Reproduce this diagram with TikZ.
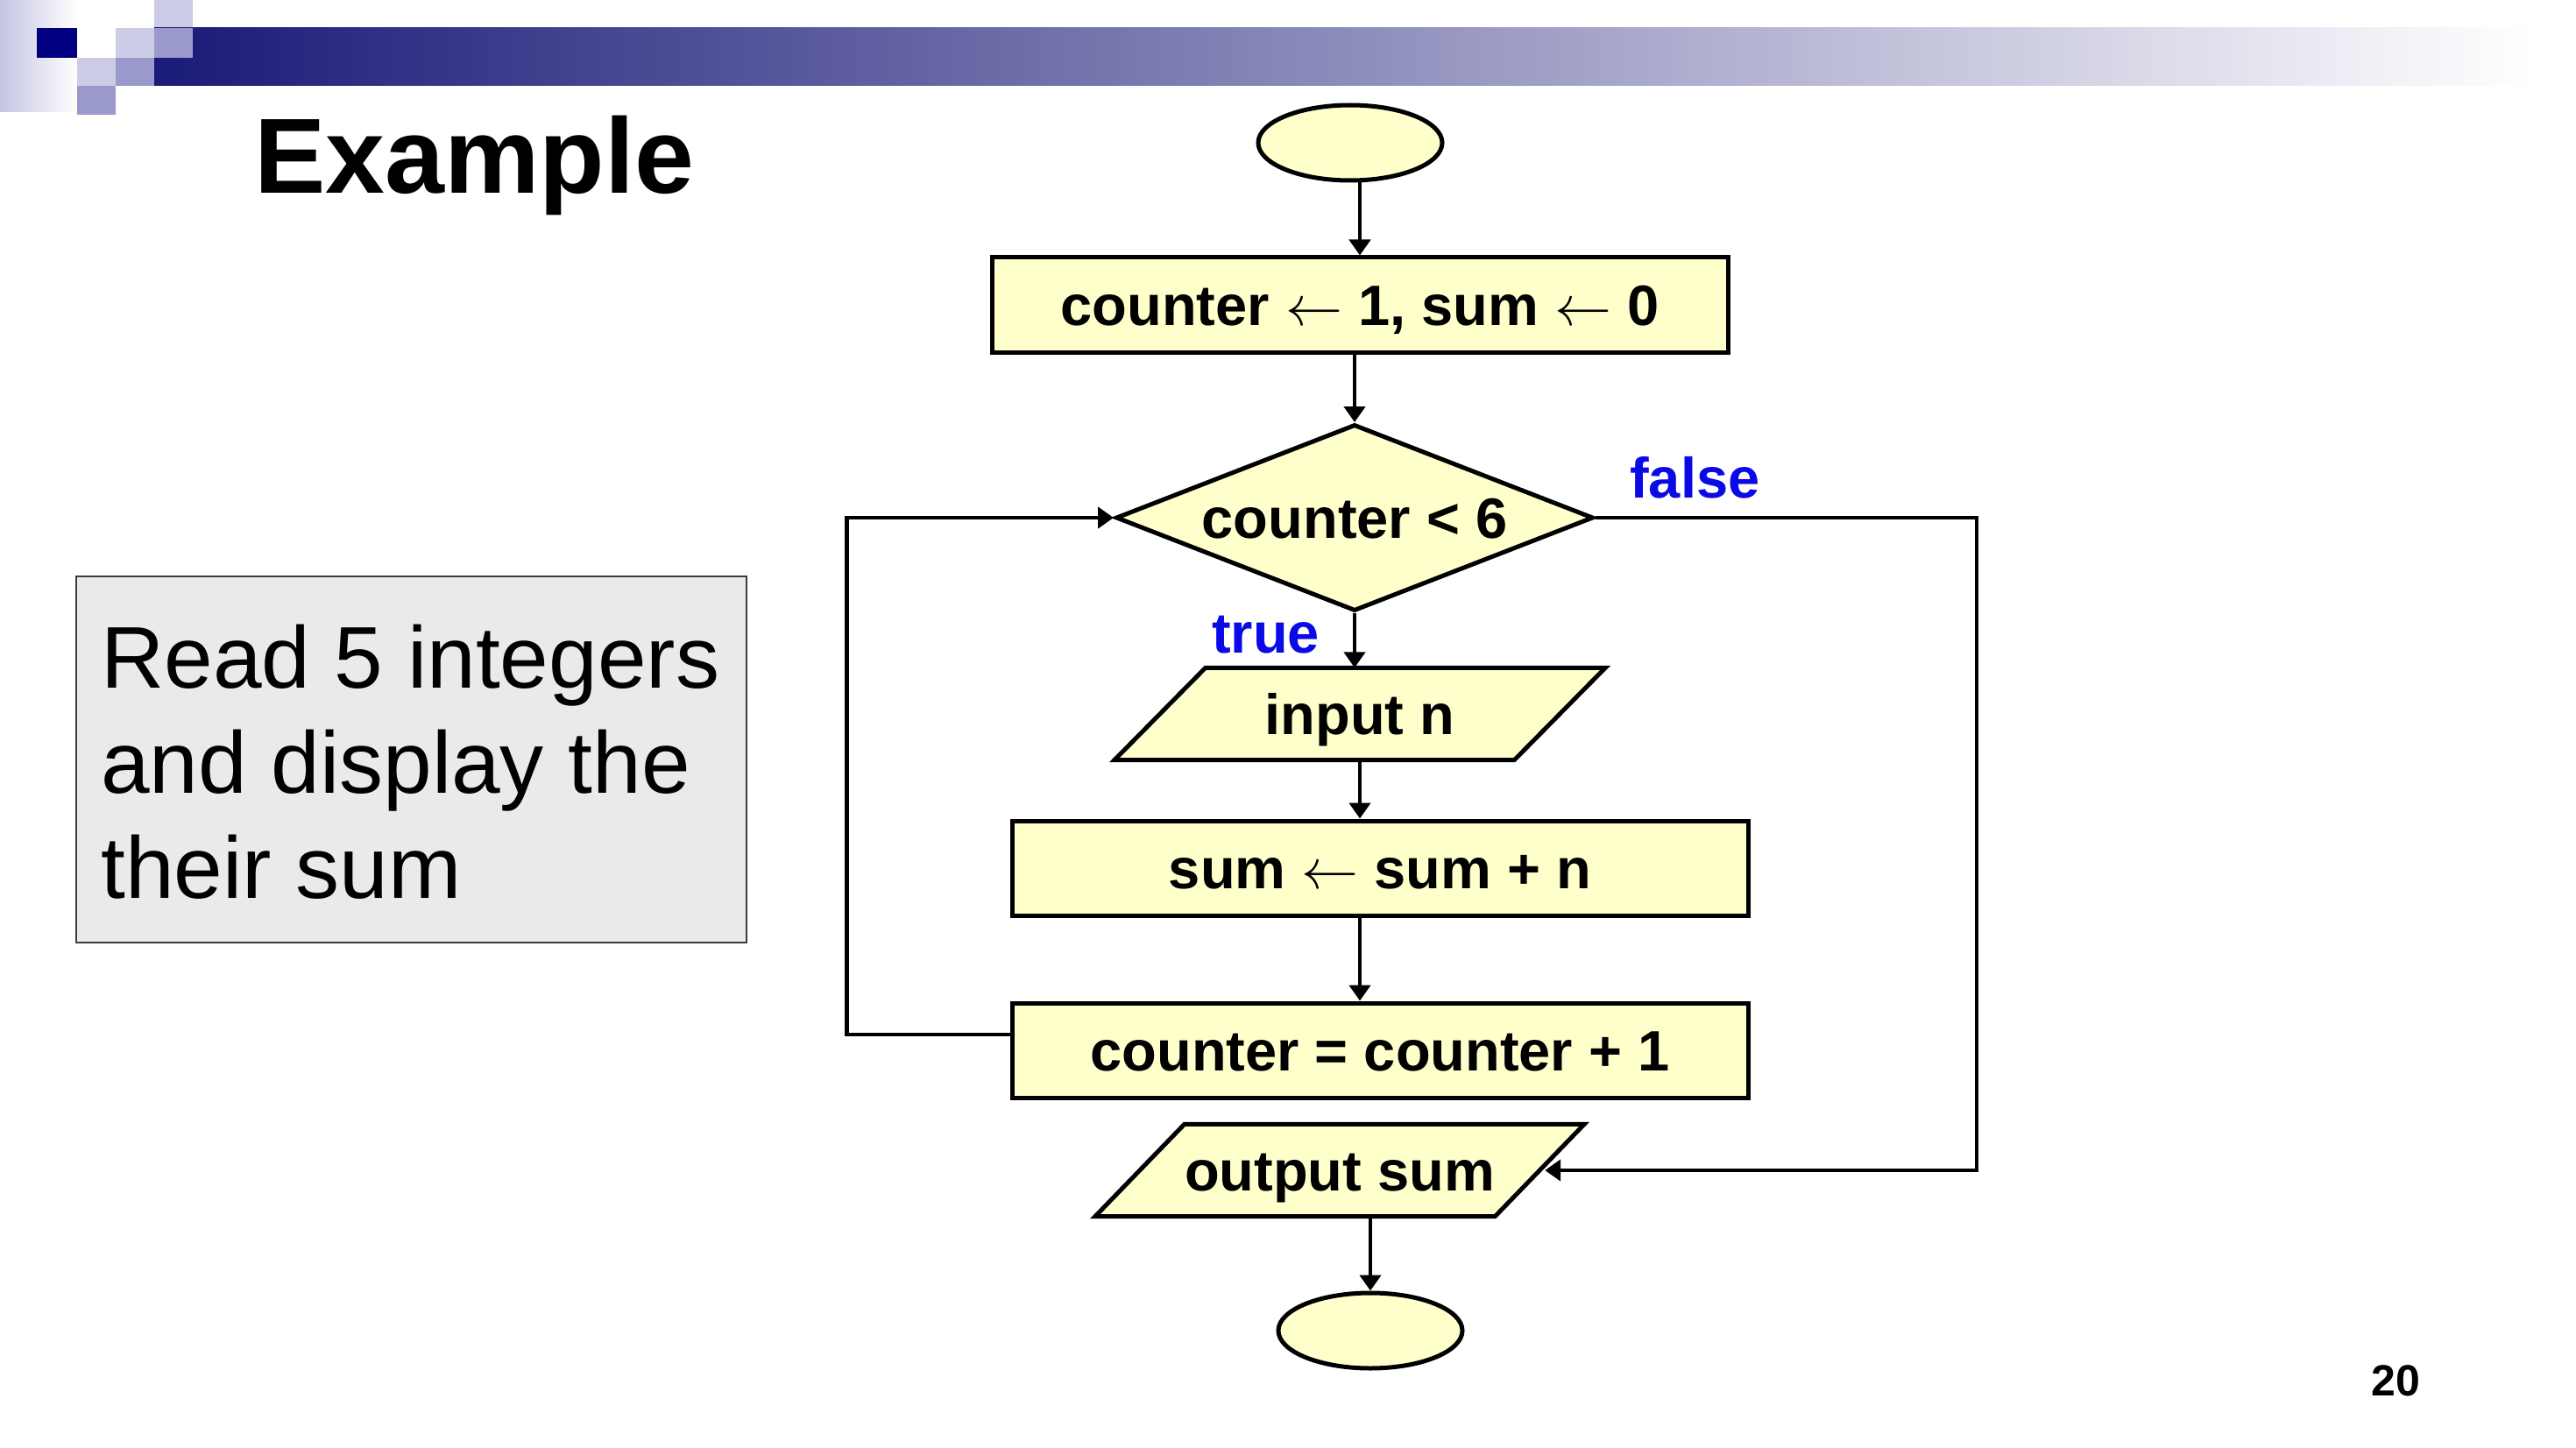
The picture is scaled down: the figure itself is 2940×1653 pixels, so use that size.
\RequirePackage{fix-cm}
\documentclass[tikz,border=0pt]{standalone}
\usepackage{fontspec}
\setmainfont{Liberation Sans}
\usetikzlibrary{shapes.geometric,arrows.meta,calc,backgrounds}
\definecolor{fcfill}{RGB}{255,255,204}
\definecolor{navysq}{RGB}{0,0,128}
\definecolor{barnavy}{RGB}{26,26,120}
\definecolor{sqlight}{RGB}{204,204,230}
\definecolor{sqmed}{RGB}{153,153,204}
\definecolor{bandl}{RGB}{196,196,226}
\definecolor{taskgray}{RGB}{234,234,234}
\definecolor{taskborder}{RGB}{60,60,60}
\definecolor{lblblue}{RGB}{10,10,230}
\begin{document}
\begin{tikzpicture}[x=1pt,y=-1pt,
  fctext/.style={font=\fontsize{65}{78}\selectfont\bfseries, text height=47pt, text depth=0pt},
  procbox/.style={draw, line width=5pt, fill=fcfill, rectangle, minimum width=840pt, minimum height=108pt, inner sep=0pt, fctext},
  decbox/.style={draw, line width=5pt, fill=fcfill, diamond, aspect=2.55, minimum width=545pt, minimum height=213pt, inner sep=0pt, fctext},
  termbox/.style={draw, line width=5pt, fill=fcfill, ellipse, minimum width=210pt, minimum height=86pt, inner sep=0pt},
  iobox/.style={rectangle, minimum width=456pt, minimum height=105pt, inner sep=0pt, fctext},
  ioshape/.style={draw, line width=5pt, fill=fcfill, line join=miter},
  conn/.style={line width=4.6pt},
  arr/.style={conn, -{Triangle[length=18pt,width=24pt]}},
  lbl/.style={font=\fontsize{65}{78}\selectfont\bfseries, text=lblblue, inner sep=0pt, anchor=base west},
]
\useasboundingbox (0,0) rectangle (2940,1653);

% top decoration
\shade[left color=bandl, right color=white] (0,0) rectangle (88,128);
\fill[navysq] (42,32) rectangle (88,66);
\fill[sqlight] (88,66) rectangle (132,98);
\fill[sqmed] (88,98) rectangle (132,131);
\fill[sqlight] (132,32) rectangle (176,66);
\fill[sqmed] (132,66) rectangle (176,98);
\fill[sqlight] (176,0) rectangle (220,32);
\shade[left color=barnavy, right color=white] (176,32) rectangle (2890,98);
\fill[sqmed] (176,32) rectangle (220,66);

% title and page number
\node[anchor=base west, inner sep=0pt, font=\fontsize{122}{140}\selectfont\bfseries] (title) at (290,221) {Example};
\node[anchor=base west, inner sep=0pt, font=\fontsize{50}{60}\selectfont\bfseries] (pageno) at (2706,1593) {20};

% task box
\node[draw=taskborder, line width=2pt, fill=taskgray, minimum width=765pt, minimum height=418pt, inner sep=0pt] (task) at (469.5,867) {};
\node[anchor=base west, align=left, inner sep=0pt, font=\fontsize{100}{120}\selectfont] (tasktext) at (115,1025) {Read 5 integers\\and display the\\their sum};

% flowchart nodes
\node[termbox] (start) at (1541,163) {};
\node[procbox] (init) at (1552,348) {counter {$\leftarrow$} 1, sum {$\leftarrow$} 0};
\node[decbox] (dec) at (1546,591) {counter < 6};
\node[iobox] (inp) at (1552,815) {input n};
\node[procbox] (sum) at (1575,991) {sum {$\leftarrow$} sum + n};
\node[procbox] (cnt) at (1575,1199) {counter = counter + 1};
\node[iobox] (out) at (1529,1336) {output sum};
\node[termbox] (stop) at (1564,1519) {};

\begin{scope}[on background layer]
  \fill[white] (0,0) rectangle (2940,1653);
  \draw[ioshape] ($(inp.south west)+(-52,0)$) -- ($(inp.south east)+(-52,0)$) -- ($(inp.north east)+(52,0)$) -- ($(inp.north west)+(52,0)$) -- cycle;
  \draw[ioshape] ($(out.south west)+(-51,0)$) -- ($(out.south east)+(-51,0)$) -- ($(out.north east)+(51,0)$) -- ($(out.north west)+(51,0)$) -- cycle;
\end{scope}

% connectors
\draw[arr] (start.south -| init.north) -- (init.north);
\draw[arr] (init.south -| dec.north) -- (dec.north);
\draw[arr] (dec.south) -- (dec.south |- inp.north);
\draw[arr] (inp.south) -- (inp.south |- sum.north);
\draw[arr] (inp.south |- sum.south) -- (inp.south |- cnt.north);
\draw[arr] ([yshift=18pt]cnt.west) -- ++(-186,0) |- (dec.west);
\draw[arr] (dec.east) -- ++(435,0) |- ([xshift=6pt]out.east);
\draw[arr] (stop.north |- out.south) -- (stop.north);

% labels
\node[lbl] (lfalse) at (1860,568) {false};
\node[lbl] (ltrue) at (1383,745) {true};
\end{tikzpicture}
\end{document}
